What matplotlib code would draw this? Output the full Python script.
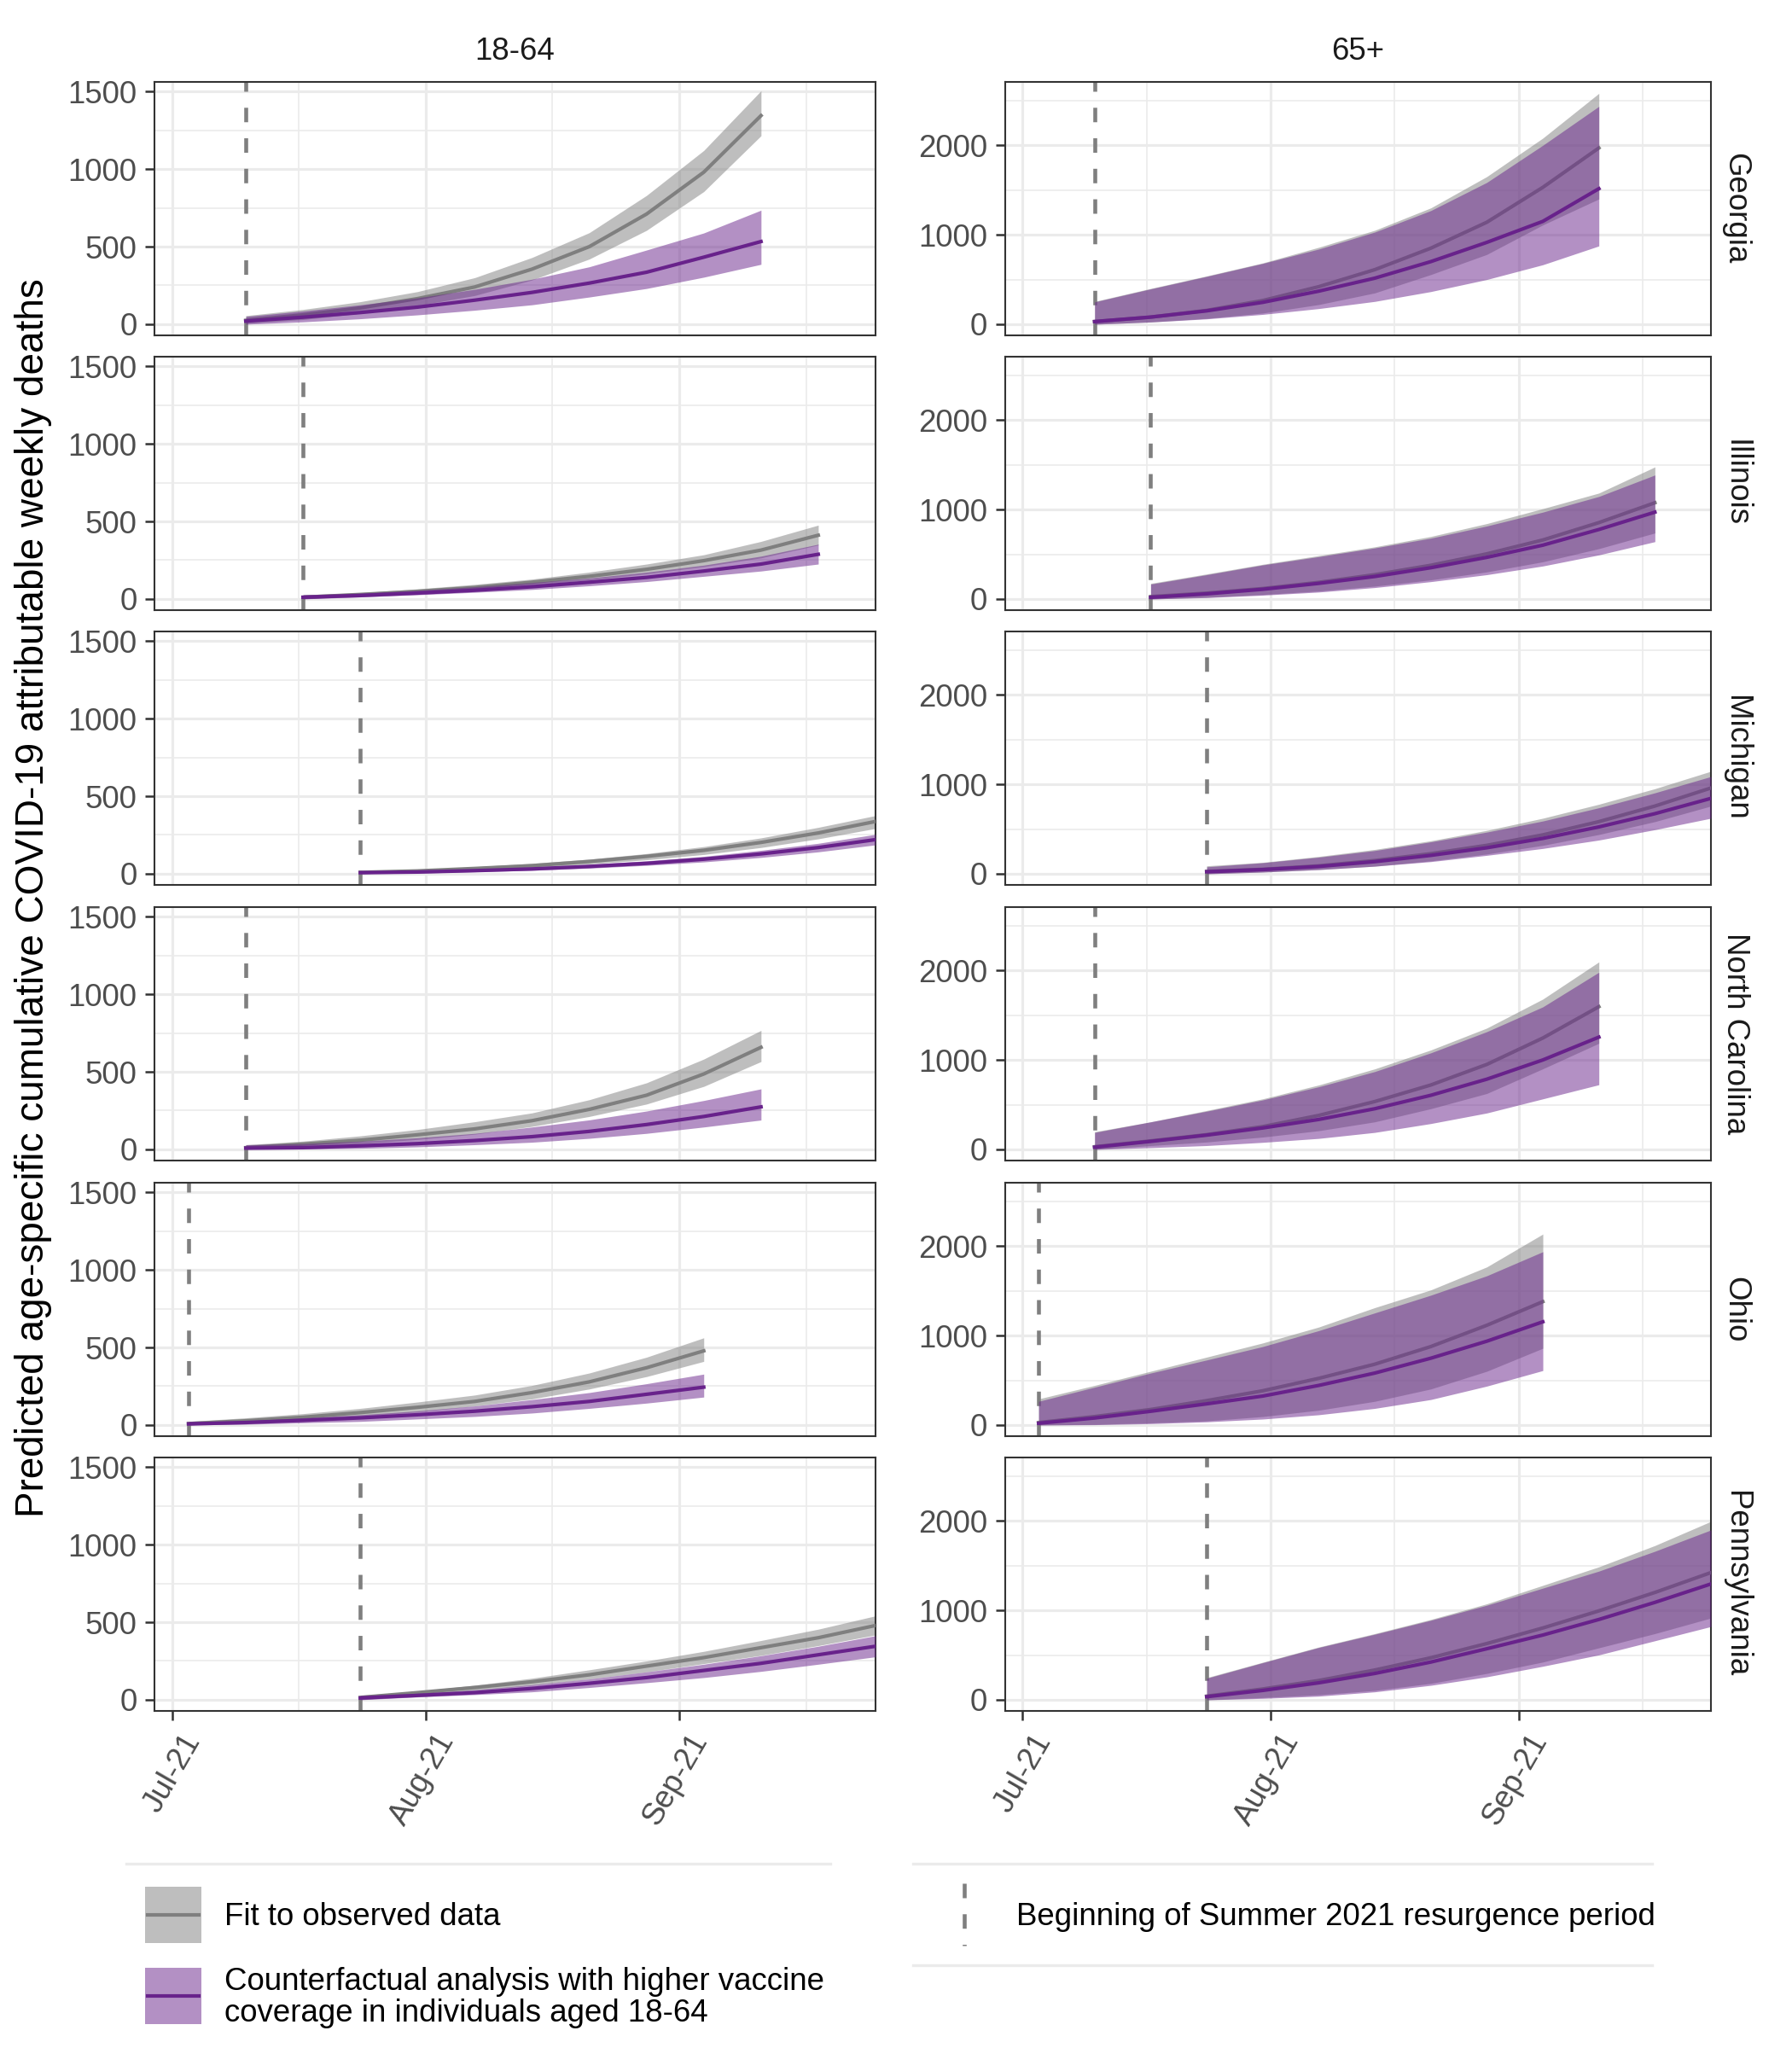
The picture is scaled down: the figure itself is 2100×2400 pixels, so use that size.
import matplotlib
matplotlib.use("Agg")
import matplotlib.pyplot as plt
import matplotlib.dates as mdates
import matplotlib.transforms as mtransforms
from matplotlib.patches import Rectangle
from matplotlib.lines import Line2D
import pandas as pd

plt.rcParams['font.family'] = ['Liberation Sans', 'DejaVu Sans']

# ---------------- data ----------------
STATES = ["Georgia", "Illinois", "Michigan", "North Carolina", "Ohio", "Pennsylvania"]
AGE_GROUPS = ["18-64", "65+"]
# start of Summer 2021 resurgence period (first weekly point) per state
START_DATES = ["2021-07-10", "2021-07-17", "2021-07-24", "2021-07-10", "2021-07-03", "2021-07-24"]
N_WEEKS = 10

# Georgia
GA_Y_FIT    = [25, 60, 105, 165, 240, 355, 500, 710, 980, 1345]
GA_Y_FIT_LO = [5, 30, 70, 120, 185, 285, 420, 605, 855, 1215]
GA_Y_FIT_HI = [55, 95, 145, 210, 300, 430, 590, 830, 1120, 1505]
GA_Y_CF     = [20, 45, 75, 110, 155, 205, 265, 335, 432, 533]
GA_Y_CF_LO  = [0, 15, 35, 60, 90, 125, 175, 230, 303, 386]
GA_Y_CF_HI  = [50, 85, 125, 170, 225, 290, 370, 478, 588, 735]
GA_O_FIT    = [30, 80, 155, 265, 420, 610, 850, 1140, 1530, 1970]
GA_O_FIT_LO = [0, 25, 65, 125, 220, 350, 555, 780, 1110, 1400]
GA_O_FIT_HI = [255, 400, 540, 685, 860, 1050, 1300, 1650, 2080, 2580]
GA_O_CF     = [30, 80, 150, 245, 370, 515, 700, 915, 1150, 1515]
GA_O_CF_LO  = [0, 25, 60, 110, 175, 255, 365, 500, 665, 875]
GA_O_CF_HI  = [250, 395, 535, 680, 840, 1030, 1270, 1585, 2000, 2435]

# Illinois
IL_Y_FIT    = [11, 29, 49, 74, 108, 146, 191, 247, 315, 411]
IL_Y_FIT_LO = [0, 20, 38, 61, 90, 124, 162, 209, 265, 348]
IL_Y_FIT_HI = [27, 40, 65, 94, 128, 173, 225, 285, 371, 476]
IL_Y_CF     = [11, 22, 38, 56, 79, 108, 139, 180, 225, 288]
IL_Y_CF_LO  = [0, 13, 27, 43, 61, 85, 112, 146, 180, 225]
IL_Y_CF_HI  = [27, 38, 56, 79, 106, 135, 173, 218, 276, 353]
IL_O_FIT    = [27, 66, 117, 186, 272, 377, 505, 660, 854, 1076]
IL_O_FIT_LO = [0, 19, 50, 89, 144, 214, 303, 416, 563, 738]
IL_O_FIT_HI = [175, 280, 388, 485, 583, 699, 843, 1010, 1184, 1476]
IL_O_CF     = [19, 58, 109, 175, 252, 350, 466, 602, 777, 971]
IL_O_CF_LO  = [0, 16, 43, 78, 128, 194, 272, 369, 493, 641]
IL_O_CF_HI  = [167, 272, 381, 474, 571, 680, 816, 971, 1146, 1386]

# Michigan
MI_Y_FIT    = [9, 18, 34, 52, 79, 112, 151, 202, 263, 337]
MI_Y_FIT_LO = [0, 11, 25, 40, 63, 90, 124, 169, 225, 292]
MI_Y_FIT_HI = [16, 27, 45, 67, 94, 130, 175, 231, 299, 375]
MI_Y_CF     = [7, 11, 20, 31, 47, 67, 94, 128, 169, 220]
MI_Y_CF_LO  = [0, 4, 13, 22, 36, 54, 76, 105, 141, 186]
MI_Y_CF_HI  = [16, 20, 29, 43, 61, 83, 112, 151, 196, 254]
MI_O_FIT    = [27, 50, 89, 148, 225, 318, 435, 583, 757, 959]
MI_O_FIT_LO = [0, 19, 47, 85, 144, 221, 318, 439, 583, 757]
MI_O_FIT_HI = [89, 128, 194, 272, 369, 485, 621, 777, 951, 1146]
MI_O_CF     = [23, 47, 82, 136, 206, 291, 396, 524, 672, 843]
MI_O_CF_LO  = [0, 19, 47, 85, 136, 206, 283, 377, 493, 621]
MI_O_CF_HI  = [78, 124, 186, 260, 357, 466, 590, 738, 905, 1087]

# North Carolina
NC_Y_FIT    = [11, 34, 59, 94, 132, 185, 258, 349, 486, 658]
NC_Y_FIT_LO = [0, 18, 37, 64, 98, 148, 212, 292, 406, 566]
NC_Y_FIT_HI = [30, 53, 87, 128, 178, 235, 320, 429, 582, 767]
NC_Y_CF     = [8, 11, 23, 37, 57, 82, 116, 160, 212, 274]
NC_Y_CF_LO  = [0, 2, 7, 16, 30, 46, 71, 103, 144, 189]
NC_Y_CF_HI  = [30, 37, 53, 75, 103, 144, 190, 247, 315, 390]
NC_O_FIT    = [30, 95, 165, 255, 380, 535, 720, 950, 1245, 1595]
NC_O_FIT_LO = [0, 43, 83, 138, 209, 308, 455, 625, 901, 1186]
NC_O_FIT_HI = [198, 308, 435, 565, 720, 900, 1111, 1356, 1680, 2095]
NC_O_CF     = [25, 90, 160, 240, 335, 455, 605, 785, 1000, 1255]
NC_O_CF_LO  = [0, 20, 43, 79, 123, 190, 289, 407, 565, 723]
NC_O_CF_HI  = [190, 308, 427, 553, 700, 870, 1079, 1316, 1593, 1980]

# Ohio
OH_Y_FIT    = [9, 27, 50, 80, 114, 152, 209, 278, 369, 478]
OH_Y_FIT_LO = [0, 14, 32, 55, 84, 123, 168, 232, 312, 410]
OH_Y_FIT_HI = [23, 46, 73, 107, 148, 193, 255, 335, 437, 562]
OH_Y_CF     = [7, 16, 30, 46, 66, 89, 118, 152, 198, 244]
OH_Y_CF_LO  = [0, 5, 14, 23, 39, 55, 77, 107, 141, 180]
OH_Y_CF_HI  = [23, 27, 46, 66, 91, 123, 164, 209, 266, 328]
OH_O_FIT    = [28, 95, 174, 273, 383, 522, 680, 877, 1115, 1379]
OH_O_FIT_LO = [0, 8, 24, 47, 95, 166, 265, 403, 601, 858]
OH_O_FIT_HI = [292, 443, 601, 759, 917, 1095, 1312, 1510, 1767, 2134]
OH_O_CF     = [20, 79, 154, 237, 324, 443, 581, 747, 937, 1154]
OH_O_CF_LO  = [0, 4, 16, 36, 67, 115, 186, 285, 435, 609]
OH_O_CF_HI  = [265, 423, 581, 727, 877, 1055, 1253, 1451, 1668, 1937]

# Pennsylvania
PA_Y_FIT    = [15, 46, 79, 116, 161, 217, 272, 336, 400, 479]
PA_Y_FIT_LO = [0, 33, 61, 94, 134, 180, 233, 286, 349, 418]
PA_Y_FIT_HI = [28, 55, 94, 139, 193, 250, 312, 382, 455, 541]
PA_Y_CF     = [11, 28, 46, 73, 106, 143, 189, 235, 290, 345]
PA_Y_CF_LO  = [0, 18, 33, 51, 79, 110, 143, 183, 229, 277]
PA_Y_CF_HI  = [28, 42, 64, 97, 134, 180, 229, 284, 345, 413]
PA_O_FIT    = [41, 121, 216, 333, 470, 629, 803, 994, 1200, 1422]
PA_O_FIT_LO = [0, 25, 57, 105, 184, 295, 422, 581, 740, 914]
PA_O_FIT_HI = [248, 420, 590, 740, 898, 1073, 1279, 1486, 1724, 1994]
PA_O_CF     = [35, 105, 190, 295, 422, 571, 724, 898, 1089, 1295]
PA_O_CF_LO  = [0, 16, 41, 89, 162, 257, 375, 502, 660, 819]
PA_O_CF_HI  = [241, 415, 585, 733, 889, 1057, 1248, 1438, 1660, 1898]

Y_TICKS = {"18-64": [0, 500, 1000, 1500], "65+": [0, 1000, 2000]}
Y_MINOR = {"18-64": [250, 750, 1250], "65+": [500, 1500, 2500]}
X_TICKS = ["2021-07-01", "2021-08-01", "2021-09-01"]
X_MINOR = ["2021-07-16 12:00", "2021-08-16 12:00", "2021-09-16 12:00"]

LEGEND_FIT = "Fit to observed data"
LEGEND_CF = "Counterfactual analysis with higher vaccine\ncoverage in individuals aged 18-64"
LEGEND_VLINE = "Beginning of Summer 2021 resurgence period"
Y_LABEL = "Predicted age-specific cumulative COVID-19 attributable weekly deaths"

PANELS = {
    ("Georgia", "18-64"): (GA_Y_FIT, GA_Y_FIT_LO, GA_Y_FIT_HI, GA_Y_CF, GA_Y_CF_LO, GA_Y_CF_HI),
    ("Georgia", "65+"): (GA_O_FIT, GA_O_FIT_LO, GA_O_FIT_HI, GA_O_CF, GA_O_CF_LO, GA_O_CF_HI),
    ("Illinois", "18-64"): (IL_Y_FIT, IL_Y_FIT_LO, IL_Y_FIT_HI, IL_Y_CF, IL_Y_CF_LO, IL_Y_CF_HI),
    ("Illinois", "65+"): (IL_O_FIT, IL_O_FIT_LO, IL_O_FIT_HI, IL_O_CF, IL_O_CF_LO, IL_O_CF_HI),
    ("Michigan", "18-64"): (MI_Y_FIT, MI_Y_FIT_LO, MI_Y_FIT_HI, MI_Y_CF, MI_Y_CF_LO, MI_Y_CF_HI),
    ("Michigan", "65+"): (MI_O_FIT, MI_O_FIT_LO, MI_O_FIT_HI, MI_O_CF, MI_O_CF_LO, MI_O_CF_HI),
    ("North Carolina", "18-64"): (NC_Y_FIT, NC_Y_FIT_LO, NC_Y_FIT_HI, NC_Y_CF, NC_Y_CF_LO, NC_Y_CF_HI),
    ("North Carolina", "65+"): (NC_O_FIT, NC_O_FIT_LO, NC_O_FIT_HI, NC_O_CF, NC_O_CF_LO, NC_O_CF_HI),
    ("Ohio", "18-64"): (OH_Y_FIT, OH_Y_FIT_LO, OH_Y_FIT_HI, OH_Y_CF, OH_Y_CF_LO, OH_Y_CF_HI),
    ("Ohio", "65+"): (OH_O_FIT, OH_O_FIT_LO, OH_O_FIT_HI, OH_O_CF, OH_O_CF_LO, OH_O_CF_HI),
    ("Pennsylvania", "18-64"): (PA_Y_FIT, PA_Y_FIT_LO, PA_Y_FIT_HI, PA_Y_CF, PA_Y_CF_LO, PA_Y_CF_HI),
    ("Pennsylvania", "65+"): (PA_O_FIT, PA_O_FIT_LO, PA_O_FIT_HI, PA_O_CF, PA_O_CF_LO, PA_O_CF_HI),
}

# ---------------- style ----------------
GRAY = "#7F7F7F"
PURPLE = "#68228B"
GRID = "#EBEBEB"
TICK_TXT = "#4D4D4D"
VLINE_W = 1.1
DASH = (0, (3.7, 4.1))

W, H = 2100, 2400
fig = plt.figure(figsize=(7, 8), dpi=300)


def rect(x0, y0, x1, y1):
    return [x0 / W, 1 - y1 / H, (x1 - x0) / W, (y1 - y0) / H]


COLS = [(181, 1026), (1178, 2005)]
ROW_TOPS = [96, 418, 740, 1063, 1386, 1708]
ROW_H = 297

XLIM = (pd.Timestamp("2021-06-28 20:00"), pd.Timestamp("2021-09-25 00:00"))
YLIM = {"18-64": (-72, 1562), "65+": (-124, 2708)}

label_shift = mtransforms.ScaledTranslation(2.5 / 72, 0, fig.dpi_scale_trans)

for r, state in enumerate(STATES):
    dates = pd.date_range(START_DATES[r], periods=N_WEEKS, freq="7D")
    for c, age in enumerate(AGE_GROUPS):
        x0, x1 = COLS[c]
        y0 = ROW_TOPS[r]
        ax = fig.add_axes(rect(x0, y0, x1, y0 + ROW_H))
        fit, fit_lo, fit_hi, cf, cf_lo, cf_hi = PANELS[(state, age)]

        ax.axvline(pd.Timestamp(START_DATES[r]), color=GRAY, lw=VLINE_W, ls=DASH, zorder=1.5)
        ax.fill_between(dates, fit_lo, fit_hi, color=GRAY, alpha=0.5, lw=0, zorder=2)
        ax.plot(dates, fit, color=GRAY, lw=1.0, zorder=3)
        ax.fill_between(dates, cf_lo, cf_hi, color=PURPLE, alpha=0.5, lw=0, zorder=4)
        ax.plot(dates, cf, color=PURPLE, lw=1.0, zorder=5)

        ax.set_xlim(XLIM)
        ax.set_ylim(YLIM[age])
        ax.set_yticks(Y_TICKS[age])
        ax.set_yticks(Y_MINOR[age], minor=True)
        ax.set_xticks(pd.to_datetime(X_TICKS))
        ax.set_xticks(pd.to_datetime(X_MINOR), minor=True)
        ax.xaxis.set_major_formatter(mdates.DateFormatter("%b-%y"))

        ax.set_axisbelow(True)
        ax.grid(which="major", color=GRID, lw=0.75)
        ax.grid(which="minor", color=GRID, lw=0.4)
        for sp in ax.spines.values():
            sp.set_color("#333333")
            sp.set_linewidth(0.5)
        ax.tick_params(which="major", length=2.75, width=0.6, color="#333333",
                       labelsize=8.8, labelcolor=TICK_TXT, pad=2.2)
        ax.tick_params(which="minor", length=0)
        if r < len(STATES) - 1:
            ax.tick_params(axis="x", which="both", labelbottom=False, length=0)
        else:
            for lab in ax.get_xticklabels():
                lab.set_rotation(60)
                lab.set_ha("right")
                lab.set_va("top")
                lab.set_rotation_mode("anchor")
                lab.set_transform(lab.get_transform() + label_shift)

        # facet strips
        if r == 0:
            fig.text(((x0 + x1) / 2) / W, 1 - 60 / H, age, ha="center", va="center",
                     fontsize=8.8, color="#1A1A1A")
        if c == 1:
            fig.text(2034 / W, 1 - (y0 + ROW_H / 2) / H, state, ha="center", va="center",
                     rotation=-90, fontsize=8.8, color="#1A1A1A")

# y axis title
fig.text(39 / W, 1 - 1052 / H, Y_LABEL, rotation=90, ha="center", va="center",
         fontsize=11, color="black")

# ---------------- legend (drawn in pixel space) ----------------
lax = fig.add_axes([0, 0, 1, 1])
lax.set_xlim(0, W)
lax.set_ylim(H, 0)
lax.axis("off")

for (a, b, y) in [(148, 973, 2184), (1070, 1936, 2184), (1070, 1936, 2303)]:
    lax.add_line(Line2D([a, b], [y, y], color="#EBEBEB", lw=0.8))

lax.add_patch(Rectangle((170, 2211), 66, 66, facecolor=GRAY, alpha=0.5, lw=0))
lax.add_line(Line2D([173, 233], [2244, 2244], color=GRAY, lw=1.0))
lax.text(263, 2246, LEGEND_FIT, ha="left", va="center", fontsize=8.8, color="black")

lax.add_patch(Rectangle((170, 2306), 66, 66, facecolor=PURPLE, alpha=0.5, lw=0))
lax.add_line(Line2D([173, 233], [2339, 2339], color=PURPLE, lw=1.0))
lax.text(263, 2341, LEGEND_CF, ha="left", va="center", fontsize=8.8, color="black",
         linespacing=1.05)

lax.add_line(Line2D([1130, 1130], [2207, 2280], color=GRAY, lw=VLINE_W, ls=DASH))
lax.text(1191, 2246, LEGEND_VLINE, ha="left", va="center", fontsize=8.8, color="black")

fig.savefig("out.png", dpi=300, facecolor="white")
